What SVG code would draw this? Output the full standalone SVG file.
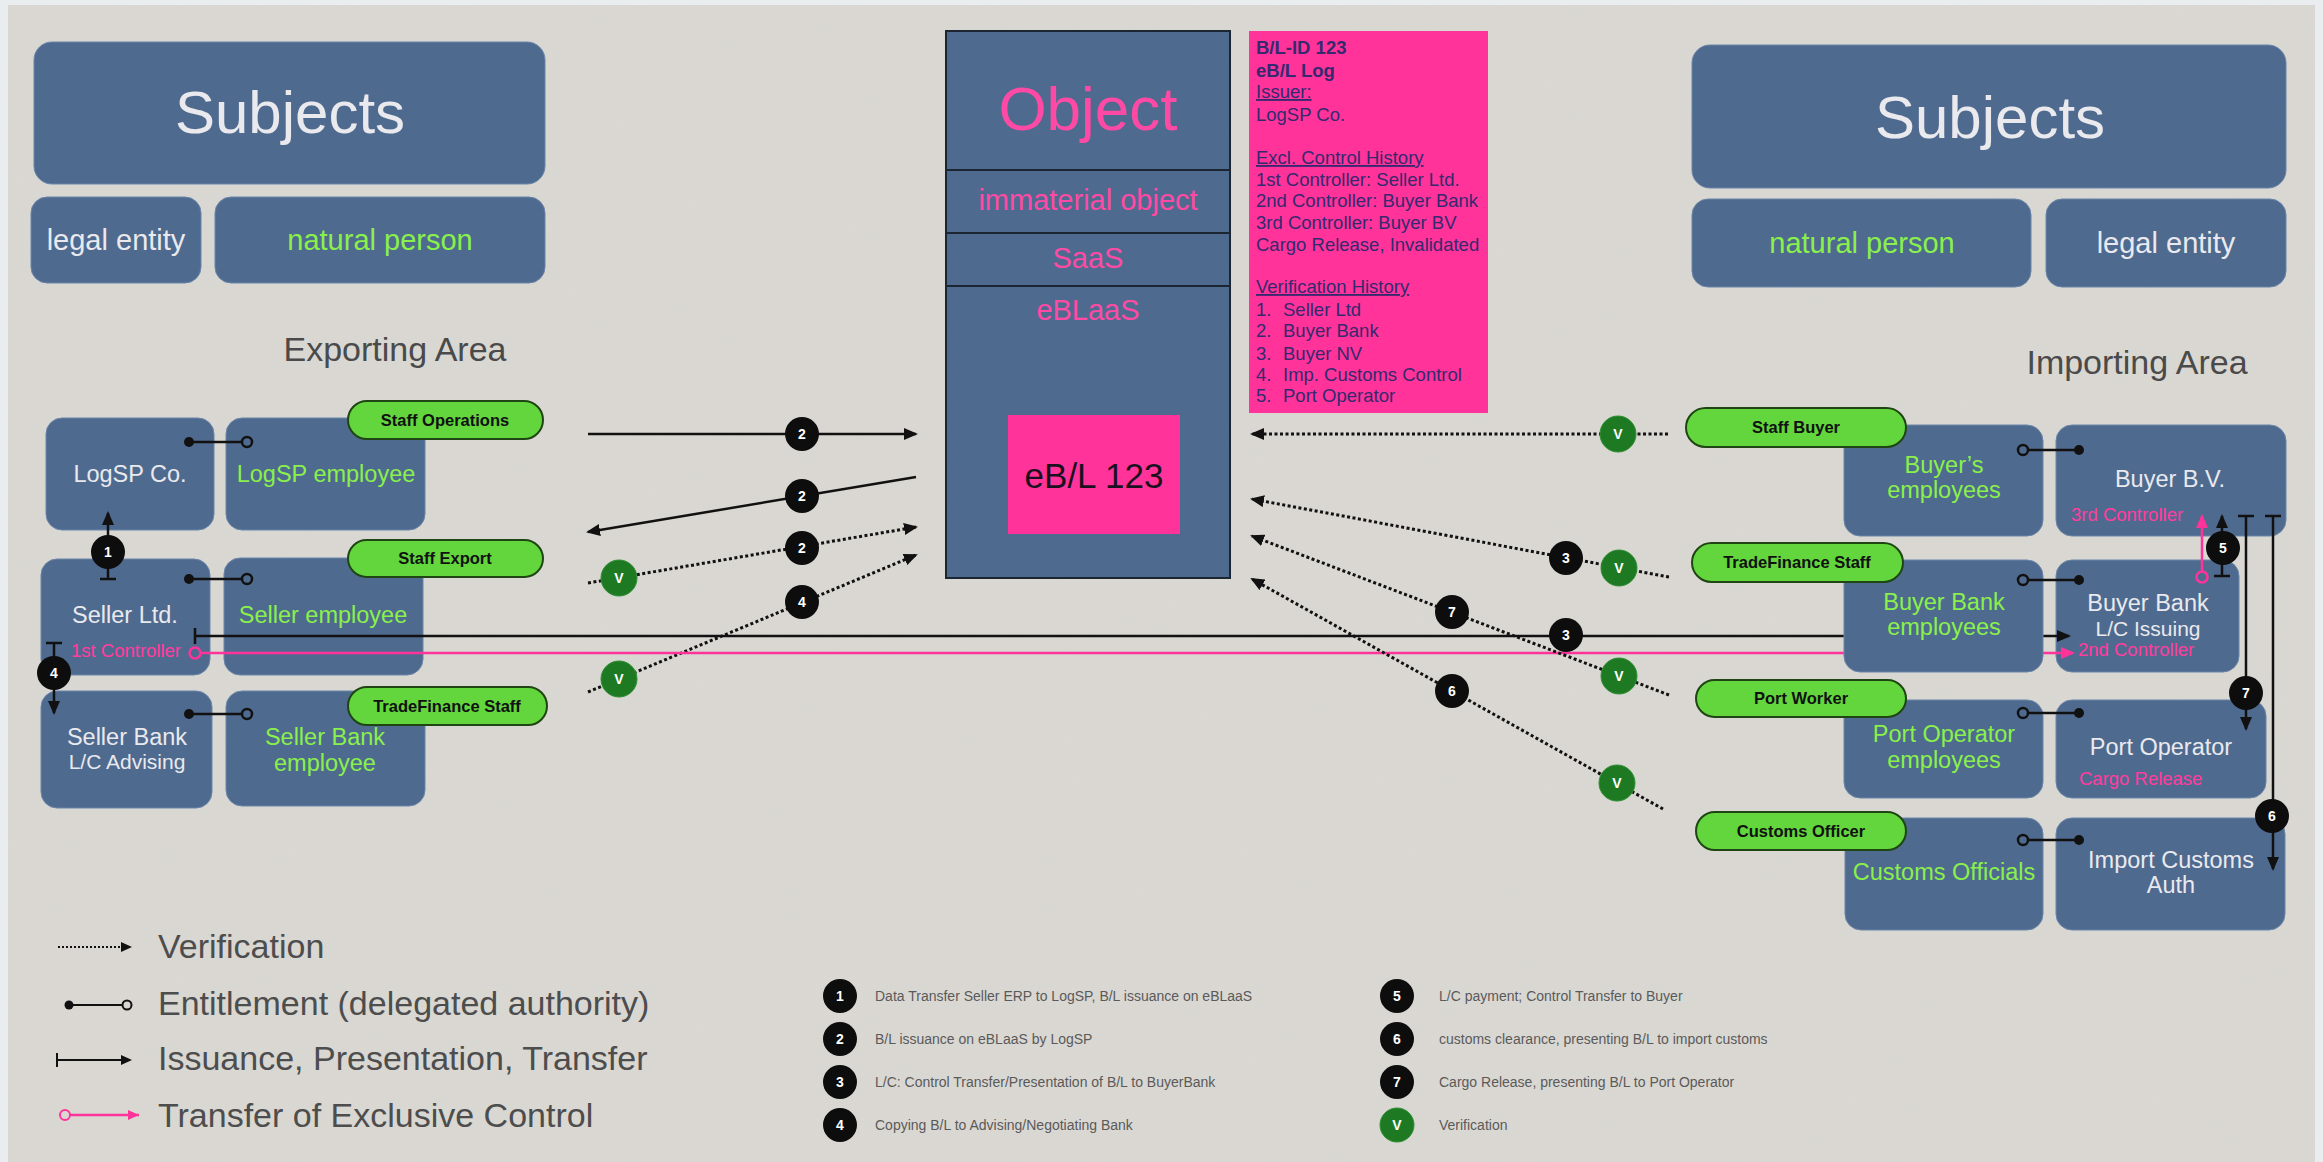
<svg xmlns="http://www.w3.org/2000/svg" width="2323" height="1162" viewBox="0 0 2323 1162">
<style>
.box{fill:#4f6a8f;stroke:#6a85a8;stroke-width:1}
.pill{fill:#62d63c;stroke:#1e4512;stroke-width:2}
.t{font-family:"Liberation Sans",Arial,sans-serif}
.w{fill:#e9e9ee}
.g{fill:#8af04c}
.pk{fill:#ff3d9e}
.lbl{font-size:23.5px;text-anchor:middle}
.sm{font-size:21px}
.ctl{font-size:18.5px}
.hd{font-size:29px;text-anchor:middle}
.pt{font-family:"Liberation Sans",Arial,sans-serif;font-weight:bold;font-size:16.5px;fill:#111;text-anchor:middle}
.sol{stroke:#111;stroke-width:2.5;fill:none}
.dot{stroke:#111;stroke-width:3;stroke-dasharray:3 2.5;fill:none}
.pl{stroke:#ff3399;stroke-width:2.5;fill:none}
.nm{fill:#0d0d0d}
.vm{fill:#1e7a22;stroke:#2f8f33;stroke-width:1}
.nt{font-family:"Liberation Sans",Arial,sans-serif;font-size:14px;font-weight:bold;fill:#fff;text-anchor:middle}
.log{font-family:"Liberation Sans",Arial,sans-serif;font-size:18.5px;fill:#35296f}
.leg{font-family:"Liberation Sans",Arial,sans-serif;font-size:34px;fill:#4d4d4d}
.ls{font-family:"Liberation Sans",Arial,sans-serif;font-size:14px;fill:#5a5a5a}
.area{font-family:"Liberation Sans",Arial,sans-serif;font-size:34px;fill:#4a4a4a;text-anchor:middle}
.ent{stroke:#111;stroke-width:2.5}
.oc{fill:none;stroke:#111;stroke-width:2.5}
</style>
<defs>
<marker id="ah" viewBox="0 0 14 12" refX="12" refY="6" markerWidth="14" markerHeight="12" markerUnits="userSpaceOnUse" orient="auto"><path d="M0,0 L14,6 L0,12 z" fill="#111"/></marker>
<marker id="ahs" viewBox="0 0 11 10" refX="9" refY="5" markerWidth="11" markerHeight="10" markerUnits="userSpaceOnUse" orient="auto"><path d="M0,0 L11,5 L0,10 z" fill="#111"/></marker>
<marker id="ahp" viewBox="0 0 14 12" refX="12" refY="6" markerWidth="14" markerHeight="12" markerUnits="userSpaceOnUse" orient="auto"><path d="M0,0 L14,6 L0,12 z" fill="#ff3399"/></marker>
<marker id="tb" viewBox="0 0 4 16" refX="2" refY="8" markerWidth="4" markerHeight="16" markerUnits="userSpaceOnUse" orient="auto"><path d="M2,0 V16" stroke="#111" stroke-width="2.5"/></marker>
<marker id="pc" viewBox="0 0 16 16" refX="14" refY="8" markerWidth="16" markerHeight="16" markerUnits="userSpaceOnUse" orient="auto"><circle cx="8" cy="8" r="5.5" fill="none" stroke="#ff3399" stroke-width="2.5"/></marker>
<filter id="grain" x="0" y="0" width="100%" height="100%">
<feTurbulence type="fractalNoise" baseFrequency="0.85" numOctaves="2" seed="3" result="n"/>
<feColorMatrix in="n" type="matrix" values="0 0 0 0 0.5  0 0 0 0 0.5  0 0 0 0 0.5  0 0 0 0.12 0" result="g"/>
<feComposite in="g" in2="SourceGraphic" operator="atop"/>
</filter>
</defs>

<rect x="0" y="0" width="2323" height="1162" fill="#e9edef"/>
<rect x="8" y="5" width="2307" height="1157" fill="#dbd9d4" filter="url(#grain)"/>

<!-- header nodes -->
<g id="subjects-left"><rect class="box" x="34" y="42" width="511" height="142" rx="18"/><text class="t w" x="290" y="133" font-size="60" text-anchor="middle">Subjects</text></g>
<g id="legal-entity-left"><rect class="box" x="31" y="197" width="170" height="86" rx="16"/><text class="t w hd" x="116" y="250">legal entity</text></g>
<g id="natural-person-left"><rect class="box" x="215" y="197" width="330" height="86" rx="16"/><text class="t g hd" x="380" y="250">natural person</text></g>
<g id="subjects-right"><rect class="box" x="1692" y="45" width="594" height="143" rx="18"/><text class="t w" x="1990" y="138" font-size="60" text-anchor="middle">Subjects</text></g>
<g id="natural-person-right"><rect class="box" x="1692" y="199" width="339" height="88" rx="16"/><text class="t g hd" x="1862" y="253">natural person</text></g>
<g id="legal-entity-right"><rect class="box" x="2046" y="199" width="240" height="88" rx="16"/><text class="t w hd" x="2166" y="253">legal entity</text></g>
<text class="area" x="395" y="361">Exporting Area</text>
<text class="area" x="2137" y="374">Importing Area</text>

<!-- object -->
<g id="object">
<rect x="946" y="31" width="284" height="547" fill="#4f6a8f" stroke="#1c2633" stroke-width="2"/>
<path d="M946,170 H1230 M946,233 H1230 M946,286 H1230" stroke="#1c2633" stroke-width="2"/>
<text class="t" x="1088" y="130" font-size="62" fill="#ff4aa5" text-anchor="middle">Object</text>
<text class="t" x="1088" y="210" font-size="29" fill="#ff4aa5" text-anchor="middle">immaterial object</text>
<text class="t" x="1088" y="268" font-size="29" fill="#ff4aa5" text-anchor="middle">SaaS</text>
<text class="t" x="1088" y="320" font-size="29" fill="#ff4aa5" text-anchor="middle">eBLaaS</text>
</g>
<g id="ebl-123"><rect x="1008" y="415" width="172" height="119" fill="#ff3399"/><text class="t" x="1094" y="488" font-size="35" fill="#1a1020" text-anchor="middle">eB/L 123</text></g>
<g id="ebl-log">
<rect x="1249" y="31" width="239" height="382" fill="#ff3399"/>
<text class="log" font-weight="bold" x="1256" y="54">B/L-ID 123</text>
<text class="log" font-weight="bold" x="1256" y="77">eB/L Log</text>
<text class="log" text-decoration="underline" x="1256" y="98">Issuer:</text>
<text class="log" x="1256" y="121">LogSP Co.</text>
<text class="log" text-decoration="underline" x="1256" y="164">Excl. Control History</text>
<text class="log" x="1256" y="186">1st Controller: Seller Ltd.</text>
<text class="log" x="1256" y="207">2nd Controller: Buyer Bank</text>
<text class="log" x="1256" y="229">3rd Controller: Buyer BV</text>
<text class="log" x="1256" y="251">Cargo Release, Invalidated</text>
<text class="log" text-decoration="underline" x="1256" y="293">Verification History</text>
<text class="log" x="1256" y="316">1.</text><text class="log" x="1283" y="316">Seller Ltd</text>
<text class="log" x="1256" y="337">2.</text><text class="log" x="1283" y="337">Buyer Bank</text>
<text class="log" x="1256" y="360">3.</text><text class="log" x="1283" y="360">Buyer NV</text>
<text class="log" x="1256" y="381">4.</text><text class="log" x="1283" y="381">Imp. Customs Control</text>
<text class="log" x="1256" y="402">5.</text><text class="log" x="1283" y="402">Port Operator</text>
</g>

<!-- left nodes -->
<g id="logsp-co"><rect class="box" x="46" y="418" width="168" height="112" rx="16"/><text class="t w lbl" x="130" y="482">LogSP Co.</text></g>
<g id="logsp-employee"><rect class="box" x="226" y="418" width="199" height="112" rx="16"/><text class="t g lbl" x="326" y="482">LogSP employee</text></g>
<g id="seller-ltd"><rect class="box" x="41" y="559" width="169" height="116" rx="16"/><text class="t w lbl" x="125" y="623">Seller Ltd.</text><text class="t pk ctl" x="71" y="657">1st Controller</text></g>
<g id="seller-employee"><rect class="box" x="224" y="558" width="199" height="117" rx="16"/><text class="t g lbl" x="323" y="623">Seller employee</text></g>
<g id="seller-bank"><rect class="box" x="41" y="691" width="171" height="117" rx="16"/><text class="t w lbl" x="127" y="745">Seller Bank</text><text class="t w lbl sm" x="127" y="769">L/C Advising</text></g>
<g id="seller-bank-employee"><rect class="box" x="226" y="691" width="199" height="115" rx="16"/><text class="t g lbl" x="325" y="745">Seller Bank</text><text class="t g lbl" x="325" y="771">employee</text></g>
<g id="staff-operations"><rect class="pill" x="348" y="401" width="195" height="38" rx="19"/><text class="pt" x="445" y="426">Staff Operations</text></g>
<g id="staff-export"><rect class="pill" x="348" y="540" width="195" height="37" rx="18.5"/><text class="pt" x="445" y="564">Staff Export</text></g>
<g id="tradefinance-staff-export"><rect class="pill" x="348" y="687" width="199" height="38" rx="19"/><text class="pt" x="447" y="712">TradeFinance Staff</text></g>

<!-- right legal entities -->
<g id="buyer-bv"><rect class="box" x="2056" y="425" width="230" height="111" rx="16"/><text class="t w lbl" x="2170" y="487">Buyer B.V.</text><text class="t pk ctl" x="2071" y="521">3rd Controller</text></g>
<g id="buyer-bank"><rect class="box" x="2056" y="560" width="183" height="112" rx="16"/><text class="t w lbl" x="2148" y="611">Buyer Bank</text><text class="t w lbl sm" x="2148" y="636">L/C Issuing</text><text class="t pk ctl" x="2078" y="656">2nd Controller</text></g>
<g id="port-operator"><rect class="box" x="2056" y="700" width="210" height="98" rx="16"/><text class="t w lbl" x="2161" y="755">Port Operator</text><text class="t pk ctl" x="2079" y="785">Cargo Release</text></g>
<g id="import-customs-auth"><rect class="box" x="2056" y="818" width="229" height="112" rx="16"/><text class="t w lbl" x="2171" y="868">Import Customs</text><text class="t w lbl" x="2171" y="893">Auth</text></g>

<!-- main connectors -->
<g id="connectors">
<line class="sol" x1="108" y1="579" x2="108" y2="513" marker-start="url(#tb)" marker-end="url(#ah)"/>
<line class="sol" x1="54" y1="643" x2="54" y2="713" marker-start="url(#tb)" marker-end="url(#ah)"/>
<line class="sol" x1="588" y1="434" x2="916" y2="434" marker-end="url(#ah)"/>
<line class="sol" x1="916" y1="477" x2="588" y2="532" marker-end="url(#ah)"/>
<line class="dot" x1="588" y1="583" x2="916" y2="527" marker-end="url(#ah)"/>
<line class="dot" x1="588" y1="692" x2="916" y2="555" marker-end="url(#ah)"/>
<line class="sol" x1="195" y1="636" x2="2069" y2="636" marker-start="url(#tb)" marker-end="url(#ah)"/>
<line class="pl" x1="201" y1="653" x2="2073" y2="653" marker-start="url(#pc)" marker-end="url(#ahp)"/>
<line class="dot" x1="1668" y1="434" x2="1252" y2="434" marker-end="url(#ah)"/>
<line class="dot" x1="1669" y1="577" x2="1252" y2="499" marker-end="url(#ah)"/>
<line class="dot" x1="1669" y1="695" x2="1252" y2="536" marker-end="url(#ah)"/>
<line class="dot" x1="1663" y1="809" x2="1252" y2="579" marker-end="url(#ah)"/>
<g id="badges">
<circle class="nm" cx="108" cy="552" r="17"/><text class="nt" x="108" y="557">1</text>
<circle class="nm" cx="54" cy="673" r="17"/><text class="nt" x="54" y="678">4</text>
<circle class="nm" cx="802" cy="434" r="17"/><text class="nt" x="802" y="439">2</text>
<circle class="nm" cx="802" cy="496" r="17"/><text class="nt" x="802" y="501">2</text>
<circle class="nm" cx="802" cy="548" r="17"/><text class="nt" x="802" y="553">2</text>
<circle class="nm" cx="802" cy="602" r="17"/><text class="nt" x="802" y="607">4</text>
<circle class="vm" cx="619" cy="578" r="18"/><text class="nt" x="619" y="583">V</text>
<circle class="vm" cx="619" cy="679" r="18"/><text class="nt" x="619" y="684">V</text>
<circle class="nm" cx="1566" cy="635" r="17"/><text class="nt" x="1566" y="640">3</text>
<circle class="vm" cx="1618" cy="434" r="18"/><text class="nt" x="1618" y="439">V</text>
<circle class="nm" cx="1566" cy="558" r="17"/><text class="nt" x="1566" y="563">3</text>
<circle class="vm" cx="1619" cy="568" r="18"/><text class="nt" x="1619" y="573">V</text>
<circle class="nm" cx="1452" cy="612" r="17"/><text class="nt" x="1452" y="617">7</text>
<circle class="vm" cx="1619" cy="676" r="18"/><text class="nt" x="1619" y="681">V</text>
<circle class="nm" cx="1452" cy="691" r="17"/><text class="nt" x="1452" y="696">6</text>
<circle class="vm" cx="1617" cy="783" r="18"/><text class="nt" x="1617" y="788">V</text>
</g>
</g>

<!-- right natural persons -->
<g id="buyers-employees"><rect class="box" x="1844" y="425" width="199" height="111" rx="16"/><text class="t g lbl" x="1944" y="473">Buyer’s</text><text class="t g lbl" x="1944" y="498">employees</text></g>
<g id="buyer-bank-employees"><rect class="box" x="1844" y="560" width="199" height="112" rx="16"/><text class="t g lbl" x="1944" y="610">Buyer Bank</text><text class="t g lbl" x="1944" y="635">employees</text></g>
<g id="port-operator-employees"><rect class="box" x="1844" y="700" width="199" height="98" rx="16"/><text class="t g lbl" x="1944" y="742">Port Operator</text><text class="t g lbl" x="1944" y="768">employees</text></g>
<g id="customs-officials"><rect class="box" x="1845" y="818" width="198" height="112" rx="16"/><text class="t g lbl" x="1944" y="880">Customs Officials</text></g>
<g id="staff-buyer"><rect class="pill" x="1686" y="408" width="220" height="39" rx="19.5"/><text class="pt" x="1796" y="433">Staff Buyer</text></g>
<g id="tradefinance-staff-import"><rect class="pill" x="1692" y="543" width="211" height="39" rx="19.5"/><text class="pt" x="1797" y="568">TradeFinance Staff</text></g>
<g id="port-worker"><rect class="pill" x="1696" y="680" width="210" height="37" rx="18.5"/><text class="pt" x="1801" y="704">Port Worker</text></g>
<g id="customs-officer"><rect class="pill" x="1696" y="812" width="210" height="38" rx="19"/><text class="pt" x="1801" y="837">Customs Officer</text></g>

<!-- top connectors -->
<g id="connectors-top">
<g id="entitlements">
<line class="ent" x1="189" y1="442" x2="242" y2="442"/><circle cx="189" cy="442" r="5" fill="#111"/><circle class="oc" cx="247" cy="442" r="5"/>
<line class="ent" x1="189" y1="579" x2="242" y2="579"/><circle cx="189" cy="579" r="5" fill="#111"/><circle class="oc" cx="247" cy="579" r="5"/>
<line class="ent" x1="189" y1="714" x2="242" y2="714"/><circle cx="189" cy="714" r="5" fill="#111"/><circle class="oc" cx="247" cy="714" r="5"/>
<line class="ent" x1="2028" y1="450" x2="2079" y2="450"/><circle cx="2079" cy="450" r="5" fill="#111"/><circle class="oc" cx="2023" cy="450" r="5"/>
<line class="ent" x1="2028" y1="580" x2="2079" y2="580"/><circle cx="2079" cy="580" r="5" fill="#111"/><circle class="oc" cx="2023" cy="580" r="5"/>
<line class="ent" x1="2028" y1="713" x2="2079" y2="713"/><circle cx="2079" cy="713" r="5" fill="#111"/><circle class="oc" cx="2023" cy="713" r="5"/>
<line class="ent" x1="2028" y1="840" x2="2079" y2="840"/><circle cx="2079" cy="840" r="5" fill="#111"/><circle class="oc" cx="2023" cy="840" r="5"/>
</g>
<line class="pl" x1="2202" y1="571" x2="2202" y2="516" marker-start="url(#pc)" marker-end="url(#ahp)"/>
<line class="sol" x1="2222" y1="576" x2="2222" y2="516" marker-start="url(#tb)" marker-end="url(#ah)"/>
<line class="sol" x1="2246" y1="516" x2="2246" y2="729" marker-start="url(#tb)" marker-end="url(#ah)"/>
<line class="sol" x1="2273" y1="516" x2="2273" y2="869" marker-start="url(#tb)" marker-end="url(#ah)"/>
<circle class="nm" cx="2223" cy="548" r="17"/><text class="nt" x="2223" y="553">5</text>
<circle class="nm" cx="2246" cy="693" r="17"/><text class="nt" x="2246" y="698">7</text>
<circle class="nm" cx="2272" cy="816" r="17"/><text class="nt" x="2272" y="821">6</text>
</g>

<!-- legend -->
<g id="legend">
<line x1="58" y1="947" x2="130" y2="947" stroke="#111" stroke-width="2" stroke-dasharray="2 2" marker-end="url(#ahs)"/>
<text class="leg" x="158" y="958">Verification</text>
<line x1="69" y1="1005" x2="123" y2="1005" stroke="#111" stroke-width="2"/><circle cx="69" cy="1005" r="4.5" fill="#111"/><circle cx="127" cy="1005" r="4.5" fill="none" stroke="#111" stroke-width="2"/>
<text class="leg" x="158" y="1015">Entitlement (delegated authority)</text>
<line x1="57" y1="1060" x2="130" y2="1060" stroke="#111" stroke-width="2" marker-end="url(#ahs)"/><line x1="57" y1="1053" x2="57" y2="1067" stroke="#111" stroke-width="2"/>
<text class="leg" x="158" y="1070">Issuance, Presentation, Transfer</text>
<line x1="70" y1="1115" x2="139" y2="1115" stroke="#ff3399" stroke-width="2.5"/><circle cx="65" cy="1115" r="5" fill="none" stroke="#ff3399" stroke-width="2"/><path d="M128,1110 L139,1115 L128,1120 z" fill="#ff3399"/>
<text class="leg" x="158" y="1127">Transfer of Exclusive Control</text>

<circle class="nm" cx="840" cy="996" r="17"/><text class="nt" x="840" y="1001">1</text>
<text class="ls" x="875" y="1001">Data Transfer Seller ERP to LogSP, B/L issuance on eBLaaS</text>
<circle class="nm" cx="840" cy="1039" r="17"/><text class="nt" x="840" y="1044">2</text>
<text class="ls" x="875" y="1044">B/L issuance on eBLaaS by LogSP</text>
<circle class="nm" cx="840" cy="1082" r="17"/><text class="nt" x="840" y="1087">3</text>
<text class="ls" x="875" y="1087">L/C: Control Transfer/Presentation of B/L to BuyerBank</text>
<circle class="nm" cx="840" cy="1125" r="17"/><text class="nt" x="840" y="1130">4</text>
<text class="ls" x="875" y="1130">Copying B/L to Advising/Negotiating Bank</text>
<circle class="nm" cx="1397" cy="996" r="17"/><text class="nt" x="1397" y="1001">5</text>
<text class="ls" x="1439" y="1001">L/C payment; Control Transfer to Buyer</text>
<circle class="nm" cx="1397" cy="1039" r="17"/><text class="nt" x="1397" y="1044">6</text>
<text class="ls" x="1439" y="1044">customs clearance, presenting B/L to import customs</text>
<circle class="nm" cx="1397" cy="1082" r="17"/><text class="nt" x="1397" y="1087">7</text>
<text class="ls" x="1439" y="1087">Cargo Release, presenting B/L to Port Operator</text>
<circle class="vm" cx="1397" cy="1125" r="17"/><text class="nt" x="1397" y="1130">V</text>
<text class="ls" x="1439" y="1130">Verification</text>
</g>
</svg>
